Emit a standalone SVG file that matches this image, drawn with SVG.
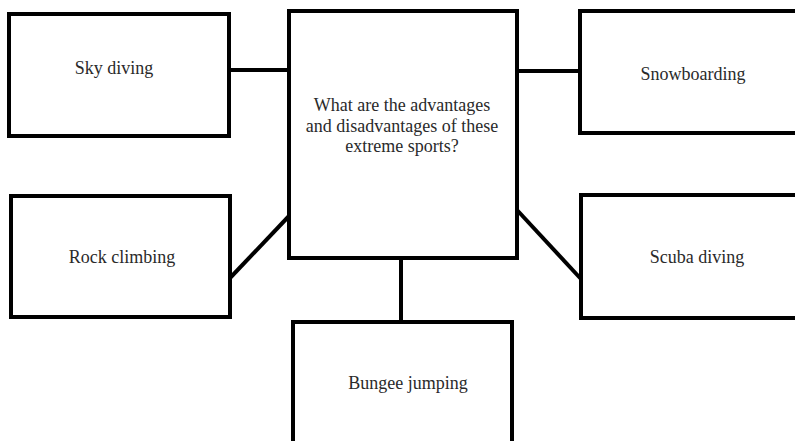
<svg xmlns="http://www.w3.org/2000/svg" width="795" height="441" viewBox="0 0 795 441">
<style>
.box{fill:#fff;stroke:#000;stroke-width:4}
.ln{stroke:#000;stroke-width:4;fill:none}
text{font-family:"Liberation Serif","Times New Roman",serif;font-size:18px;fill:#2a2a2a;text-anchor:middle}
</style>
<rect width="795" height="441" fill="#fff"/>
<g id="connectors">
<line class="ln" x1="229" y1="70" x2="289" y2="70"/>
<line class="ln" x1="517" y1="71" x2="580" y2="71"/>
<line class="ln" x1="230" y1="278" x2="289" y2="216"/>
<line class="ln" x1="517" y1="210" x2="581" y2="279"/>
<line class="ln" x1="401" y1="258" x2="401" y2="322"/>
</g>
<g id="center">
<rect class="box" x="289" y="11" width="228" height="247"/>
<text x="402" y="111">What are the advantages</text>
<text x="402" y="132">and disadvantages of these</text>
<text x="402" y="152">extreme sports?</text>
</g>
<g id="sky-diving">
<rect class="box" x="9" y="14" width="220" height="122"/>
<text x="114" y="74">Sky diving</text>
</g>
<g id="snowboarding">
<rect class="box" x="580" y="11" width="230" height="122"/>
<text x="693" y="80">Snowboarding</text>
</g>
<g id="rock-climbing">
<rect class="box" x="11" y="196" width="219" height="121"/>
<text x="122" y="263">Rock climbing</text>
</g>
<g id="scuba-diving">
<rect class="box" x="581" y="195" width="230" height="123"/>
<text x="697" y="263">Scuba diving</text>
</g>
<g id="bungee-jumping">
<rect class="box" x="293" y="322" width="219" height="140"/>
<text x="408" y="389">Bungee jumping</text>
</g>
</svg>
